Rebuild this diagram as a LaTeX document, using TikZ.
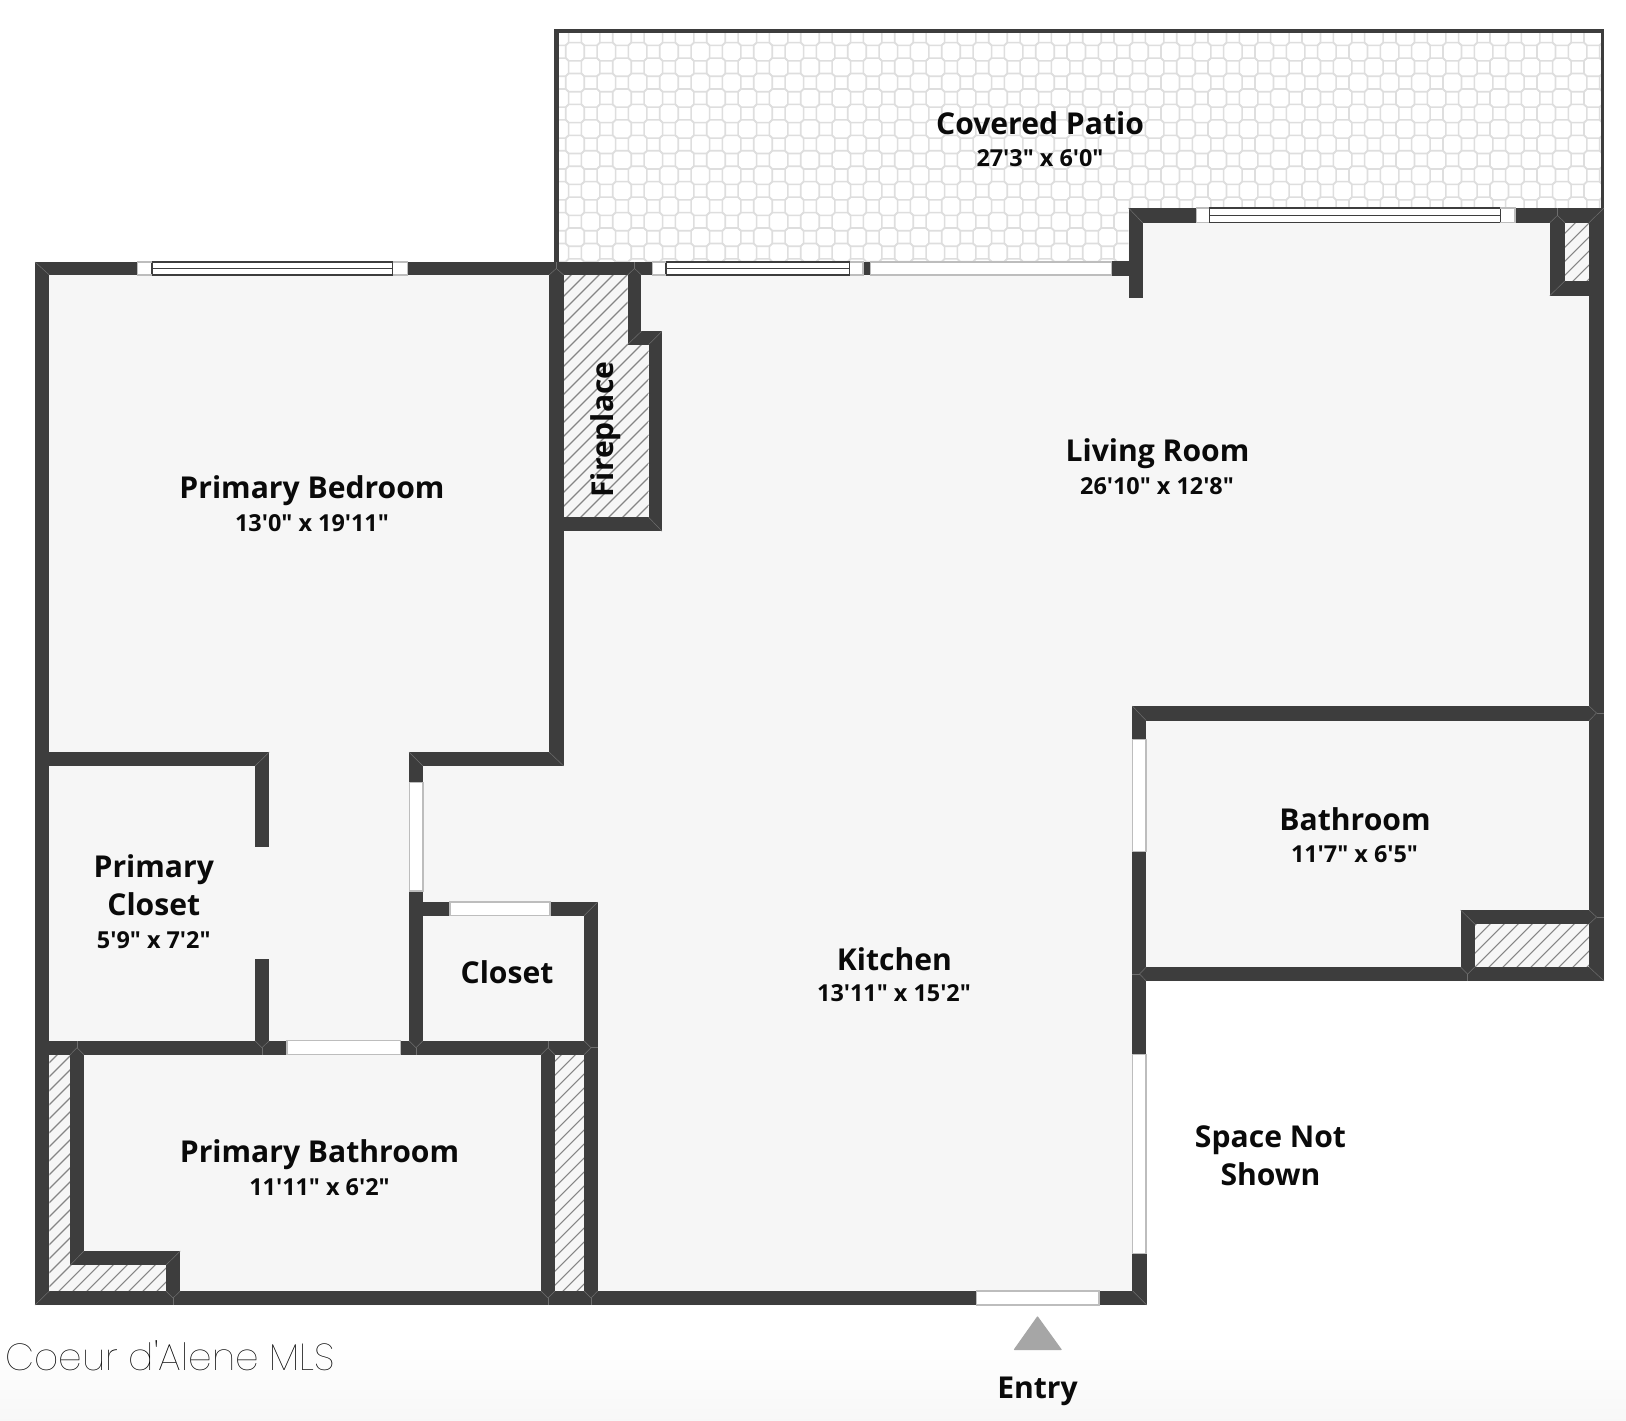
\documentclass[tikz,border=0pt]{standalone}
\usepackage{fontspec}
\newfontfamily\labelfont{Open Sans}
\newfontfamily\markfont{Poppins Thin}
\definecolor{wallc}{HTML}{3D3D3D}
\definecolor{floorc}{HTML}{F6F6F6}
\definecolor{tilec}{HTML}{DEDEDE}
\definecolor{hatchc}{HTML}{858585}
\definecolor{seamc}{HTML}{6E6E6E}
\definecolor{doorc}{HTML}{BDBDBD}
\definecolor{textc}{HTML}{0A0A0A}
\definecolor{arrowc}{HTML}{A6A6A6}
\tikzset{
  wallbox/.style={fill=wallc,draw=none},
  doorbox/.style={fill=white,draw=none},
  doorline/.style={draw=doorc,line width=0.7pt},
  winline/.style={draw=wallc,line width=0.55pt},
  seam/.style={draw=seamc,line width=0.25pt},
  hatchline/.style={draw=hatchc,line width=0.55pt},
  roomname/.style={font=\labelfont\bfseries\fontsize{15.05}{18}\selectfont,text=textc,inner sep=0pt,anchor=base},
  roomsize/.style={font=\labelfont\bfseries\fontsize{11.7}{14}\selectfont,text=textc,inner sep=0pt,anchor=base},
}
\newcommand{\wallrect}[4]{\fill[wallbox] (#1,#2) rectangle (#3,#4);}
\newcommand{\hatcharea}[1]{%
  \begin{scope}
    \clip #1;
    \foreach \c in {300,314,...,2700}{\draw[hatchline] (\c,0) -- ({\c-1420},1420);}
  \end{scope}}
\begin{document}
\begin{tikzpicture}[x=0.5pt,y=-0.5pt]
\useasboundingbox (0,0) rectangle (1626,1420);
\fill[white] (0,0) rectangle (1626,1420);
\shade[top color=white,bottom color=black!3,draw=none] (0,1345) rectangle (1626,1420);

% patio
\begin{scope}
  \clip (555,30) -- (1603,30) -- (1603,208) -- (1128.5,208) -- (1128.5,262) -- (555,262) -- cycle;
  \foreach \j in {-2,...,15}{
    \pgfmathtruncatemacro{\st}{mod(abs(\j),2)==0 ? -2 : -1}
    \pgfmathtruncatemacro{\nx}{\st+2}
    \foreach \i in {\st,\nx,...,68}{
      \pgfmathsetmacro{\cx}{575+15.665*\i}
      \pgfmathsetmacro{\cy}{51.7+15.45*\j}
      \draw[tilec,line width=0.8pt]
        (\cx-9.25,\cy-6.35) -- (\cx-6.4,\cy-9.1) -- (\cx+6.4,\cy-9.1) -- (\cx+9.25,\cy-6.35)
        -- (\cx+9.25,\cy+6.35) -- (\cx+6.4,\cy+9.1) -- (\cx-6.4,\cy+9.1) -- (\cx-9.25,\cy+6.35) -- cycle;
    }
  }
\end{scope}
\wallrect{554}{29}{558.7}{262}
\wallrect{554}{29}{1604}{32.5}
\wallrect{1600.5}{29}{1604}{208}

% floor
\fill[floorc] (35,262) -- (1128.5,262) -- (1128.5,208) -- (1604,208) -- (1604,981) -- (1146,981) -- (1146,1305) -- (35,1305) -- cycle;

% hatching
\hatcharea{(563.7,275) -- (627.6,275) -- (627.6,344.5) -- (648.6,344.5) -- (648.6,517.3) -- (563.7,517.3) -- cycle}
\hatcharea{(1565,222.7) -- (1589,222.7) -- (1589,280.7) -- (1565,280.7) -- cycle}
\hatcharea{(1474.7,924) -- (1589,924) -- (1589,967) -- (1474.7,967) -- cycle}
\hatcharea{(49.4,1054.7) -- (70.2,1054.7) -- (70.2,1265) -- (166,1265) -- (166,1291) -- (49.4,1291) -- cycle}
\hatcharea{(555,1054.7) -- (584,1054.7) -- (584,1291) -- (555,1291) -- cycle}

% walls
\wallrect{35}{262}{137.7}{275}
\wallrect{407.7}{262}{652.5}{275}
\wallrect{35}{262}{49.4}{1305}
\wallrect{549}{262}{563.7}{766}
\wallrect{35}{752}{269.3}{766}
\wallrect{255}{752}{269.3}{846.7}
\wallrect{255}{959}{269.3}{1054.7}
\wallrect{35}{1040.7}{287}{1054.7}
\wallrect{400.3}{1040.7}{597.7}{1054.7}
\wallrect{409}{752}{563.7}{766}
\wallrect{409}{752}{423}{782.3}
\wallrect{409}{891}{423}{1054.7}
\wallrect{409}{902}{450}{915.7}
\wallrect{550}{902}{597.7}{915.7}
\wallrect{584}{902}{597.7}{1305}
\wallrect{541}{1040.7}{555}{1305}
\wallrect{70.2}{1040.7}{84}{1265}
\wallrect{70.2}{1251}{180.3}{1265}
\wallrect{166}{1251}{180.3}{1305}
\wallrect{35}{1291}{976.7}{1305}
\wallrect{1099}{1291}{1146.7}{1305}
\wallrect{1132.3}{706}{1146.3}{739.3}
\wallrect{1132.3}{851.7}{1146.3}{1054.3}
\wallrect{1132.3}{1253.7}{1146.7}{1305}
\wallrect{1132.3}{706}{1604}{720.7}
\wallrect{1132.3}{967}{1604}{981}
\wallrect{1460.6}{910}{1604}{924}
\wallrect{1460.6}{910}{1474.7}{981}
\wallrect{1589}{208}{1604}{981}
\wallrect{1128.5}{208}{1196.3}{222.7}
\wallrect{1515}{208}{1604}{222.7}
\wallrect{1128.5}{208}{1142.6}{298}
\wallrect{1112}{261}{1128.5}{275.7}
\wallrect{1549.8}{208}{1565}{295.7}
\wallrect{1549.8}{280.7}{1604}{295.7}
\wallrect{627.6}{275}{641.4}{344.5}
\wallrect{627.6}{331.3}{662}{344.5}
\wallrect{648.6}{331.3}{662}{531.2}
\wallrect{549}{517.3}{662}{531.2}
\wallrect{863}{262}{870}{275}

% mitre seams
\foreach \a/\b/\c/\d in {35/262/49.4/275, 35/1305/49.4/1291, 1128.5/208/1142.6/222.7, 1604/208/1589/222.7,
  1132.3/706/1146.3/720.7, 1604/981/1589/967, 1460.6/910/1474.7/924, 1146.7/1305/1132.7/1291,
  409/752/423/766, 269.3/752/255/766, 563.7/766/549/752, 597.7/902/584/915.7,
  662/331.3/648.6/344.5, 662/531.2/648.6/517.3, 627.6/344.5/641.4/331.3, 1549.8/295.7/1565/280.7,
  70.2/1265/84/1251, 180.3/1251/166/1265, 1549.8/222.7/1557.4/215.5, 1565/222.7/1557.4/215.5, 1557.4/215.5/1557.4/208,
  549/275/556.3/268.5, 563.7/275/556.3/268.5, 556.3/268.5/556.3/262,
  627.6/275/634.5/268.5, 641.4/275/634.5/268.5, 634.5/268.5/634.5/262,
  541/1054.7/548/1047.7, 555/1054.7/548/1047.7, 548/1047.7/548/1040.7,
  584/1040.7/591/1047.7, 584/1054.7/591/1047.7, 591/1047.7/597.7/1047.7,
  70.2/1054.7/77/1047.7, 84/1054.7/77/1047.7, 77/1047.7/77/1040.7,
  409/1040.7/416/1047.7, 423/1040.7/416/1047.7, 416/1047.7/416/1054.7,
  255/1040.7/262/1047.7, 269.3/1040.7/262/1047.7, 262/1047.7/262/1054.7,
  1132.3/974/1139.5/974, 1146.3/967/1139.5/974, 1146.3/981/1139.5/974,
  1460.6/967/1467.6/974, 1474.7/967/1467.6/974, 1467.6/974/1467.6/981,
  1589/720.7/1596.5/713, 1589/706/1596.5/713, 1596.5/713/1604/713,
  1589/924/1596.5/917, 1589/910/1596.5/917, 1596.5/917/1604/917,
  541/1291/548/1298, 555/1291/548/1298, 548/1298/548/1305,
  584/1291/591/1298, 597.7/1291/591/1298, 591/1298/591/1305,
  166/1291/173/1298, 180.3/1291/173/1298, 173/1298/173/1305}
  {\draw[seam] (\a,\b) -- (\c,\d);}

% plain doors
\foreach \a/\b/\c/\d in {870.5/262/1111.7/275, 287/1040.7/400.3/1054.7, 450/902/550/915.7, 976.7/1291/1099/1305,
  409.5/782.3/423/891, 1132.7/739.3/1146/851.7, 1132.7/1054.3/1146/1253.7}{
  \fill[doorbox] (\a,\b) rectangle (\c,\d);
  \draw[doorline] (\a,\b) rectangle (\c,\d);
}

% windows
\foreach \a/\b/\c/\d/\e/\f in {137.7/152/392.7/407.7/262/275, 652.5/666/849.6/863/262/275, 1196.3/1209.4/1500.2/1515/208/222.7}{
  \fill[doorbox] (\a,\e) rectangle (\d,\f);
  \draw[winline] (\b,\e) rectangle (\c,\f);
  \draw[winline] (\b,{(\e+\f)/2}) -- (\c,{(\e+\f)/2});
  \draw[doorline] (\a,\e) rectangle (\d,\f);
  \draw[winline] (\b,\e) -- (\c,\e) (\b,\f) -- (\c,\f);
}

% entry arrow
\coordinate (apex) at (1037.5,1317);
\coordinate (baseL) at (1014.5,1349.5);
\coordinate (baseR) at (1061,1349.5);
\fill[arrowc,draw=arrowc,line width=0.6pt,line join=round] (apex) -- (baseL) -- (baseR) -- cycle;

% labels
\node[roomname] (patio) at (1040,134) {Covered Patio};
\node[roomsize] (patioS) at (1040,166) {27'3" x 6'0"};
\node[roomname] (living) at (1157.5,461.5) {Living Room};
\node[roomsize] (livingS) at (1157,494.5) {26'10" x 12'8"};
\node[roomname] (bed) at (312,498.5) {Primary Bedroom};
\node[roomsize] (bedS) at (312,531) {13'0" x 19'11"};
\node[roomname,rotate=90] (fire) at (613.4,429.5) {Fireplace};
\node[roomname] (pc1) at (153.8,877.5) {Primary};
\node[roomname] (pc2) at (153.8,915) {Closet};
\node[roomsize] (pcS) at (153.8,948) {5'9" x 7'2"};
\node[roomname] (closet) at (507,983) {Closet};
\node[roomname] (kitchen) at (894.5,970) {Kitchen};
\node[roomsize] (kitchenS) at (894,1001.5) {13'11" x 15'2"};
\node[roomname] (bath) at (1355,830) {Bathroom};
\node[roomsize] (bathS) at (1354.5,862.3) {11'7" x 6'5"};
\node[roomname] (pbath) at (319.5,1162.5) {Primary Bathroom};
\node[roomsize] (pbathS) at (319.5,1195) {11'11" x 6'2"};
\node[roomname] (sp1) at (1270.5,1147) {Space Not};
\node[roomname] (sp2) at (1270.5,1185) {Shown};
\node[roomname] (entry) at (1037.5,1398) {Entry};
\node[inner sep=0pt,anchor=base west,text=black,font=\markfont\fontsize{18.8}{22}\selectfont] (mark) at (5,1370)
  {Coeur d'Alene MLS};
\end{tikzpicture}
\end{document}
